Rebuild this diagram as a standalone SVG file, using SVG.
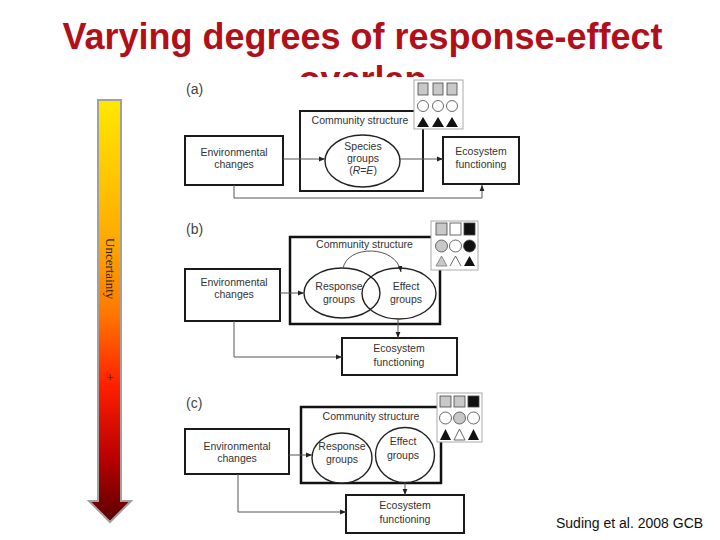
<svg xmlns="http://www.w3.org/2000/svg" width="720" height="540" viewBox="0 0 720 540">
<defs>
<linearGradient id="unc" x1="0" y1="0" x2="0" y2="1">
<stop offset="0" stop-color="#ffe800"/>
<stop offset="0.3" stop-color="#ffb000"/>
<stop offset="0.5" stop-color="#ff7a00"/>
<stop offset="0.68" stop-color="#ff1e00"/>
<stop offset="0.85" stop-color="#b80000"/>
<stop offset="1" stop-color="#5a0000"/>
</linearGradient>
<marker id="ah" viewBox="0 0 8 8" refX="8" refY="4" markerWidth="6" markerHeight="6" orient="auto" markerUnits="userSpaceOnUse">
<path d="M0,0.8 L8,4 L0,7.2 z" fill="#222"/>
</marker>
<clipPath id="titleclip"><rect x="0" y="0" width="720" height="77"/></clipPath>
</defs>
<style>
.title{font-family:"Liberation Sans",Arial,sans-serif;font-weight:bold;font-size:36px;fill:#b0101a;text-anchor:middle}
.box{fill:#fff;stroke:#1a1a1a;stroke-width:2}
.cbox{fill:#fff;stroke:#111;stroke-width:2.5}
.lbl{font-family:"Liberation Sans",Arial,sans-serif;font-size:10.5px;fill:#333;text-anchor:middle}
.panel{font-family:"Liberation Sans",Arial,sans-serif;font-size:14px;fill:#444}
.ell{fill:#fff;stroke:#222;stroke-width:1.4}
.conn{fill:none;stroke:#555;stroke-width:1}
.arr{marker-end:url(#ah)}
.leg{fill:#fff;stroke:#aaa;stroke-width:1}
.ls{stroke:#444;stroke-width:0.8}
.g{fill:#c8c8c8}
.w{fill:#fff}
.k{fill:#111}
.cite{font-family:"Liberation Sans",Arial,sans-serif;font-size:14px;fill:#111}
.unc{font-family:"Liberation Serif","Times New Roman",serif;font-size:13px;fill:#222}
</style>
<rect width="720" height="540" fill="#fff"/>

<g id="title">
<text class="title" x="362.5" y="49">Varying degrees of response-effect</text>
<text class="title" x="362.5" y="92" clip-path="url(#titleclip)">overlap</text>
</g>

<g id="uncertainty-arrow">
<path d="M98,100 L121,100 L121,501 L131,501 L110,522 L89,501 L98,501 Z" fill="url(#unc)" stroke="#a0a0a0" stroke-width="2" stroke-linejoin="miter"/>
<text class="unc" transform="translate(106,238) rotate(90)">Uncertainty</text>
<text class="unc" x="110" y="382" text-anchor="middle">+</text>
</g>

<!-- Panel (a) -->
<g id="panel-a">
<text class="panel" x="186" y="94">(a)</text>
<g id="a-community">
<rect class="box" x="300" y="111" width="123" height="80"/>
<text class="lbl" x="360" y="124">Community structure</text>
</g>
<g id="a-legend">
<rect class="leg" x="414" y="80" width="49" height="49"/>
<rect class="g ls" x="418" y="83" width="10" height="12"/>
<rect class="g ls" x="433" y="83" width="10" height="12"/>
<rect class="g ls" x="447" y="83" width="10" height="12"/>
<circle class="w ls" cx="423" cy="106" r="5.5"/>
<circle class="w ls" cx="438" cy="106" r="5.5"/>
<circle class="w ls" cx="452" cy="106" r="5.5"/>
<polygon class="k" points="417,127 423,117 429,127"/>
<polygon class="k" points="432,127 438,117 444,127"/>
<polygon class="k" points="446,127 452,117 458,127"/>
</g>
<g id="a-env">
<rect class="box" x="185" y="136" width="98" height="49"/>
<text class="lbl" x="234" y="156">Environmental</text>
<text class="lbl" x="234" y="168">changes</text>
</g>
<g id="a-species">
<ellipse class="ell" cx="362.5" cy="161" rx="37.5" ry="26"/>
<text class="lbl" x="363" y="150">Species</text>
<text class="lbl" x="363" y="162">groups</text>
<text class="lbl" x="363" y="174">(<tspan font-style="italic">R</tspan>=<tspan font-style="italic">E</tspan>)</text>
</g>
<g id="a-eco">
<rect class="box" x="443" y="137" width="76" height="47"/>
<text class="lbl" x="481" y="155">Ecosystem</text>
<text class="lbl" x="481" y="168">functioning</text>
</g>
</g>

<!-- Panel (b) -->
<g id="panel-b">
<text class="panel" x="186" y="234">(b)</text>
<g id="b-community">
<rect class="cbox" x="290" y="237" width="150" height="87"/>
<text class="lbl" x="364.5" y="248">Community structure</text>
</g>
<g id="b-legend">
<rect class="leg" x="431" y="221" width="47" height="49"/>
<rect class="g ls" x="436" y="223" width="11" height="12"/>
<rect class="w ls" x="450" y="223" width="11" height="12"/>
<rect class="k ls" x="464" y="223" width="11" height="12"/>
<circle class="g ls" cx="441.5" cy="246" r="6"/>
<circle class="w ls" cx="455.5" cy="246" r="6"/>
<circle class="k ls" cx="469.5" cy="246" r="6"/>
<polygon class="g" points="436,266 441.5,256 447,266" stroke="#777" stroke-width="0.8"/>
<polyline points="450,266 455.5,256 461,266" fill="none" stroke="#444" stroke-width="0.8"/>
<polygon class="k" points="464,266 469.5,256 475,266"/>
</g>
<g id="b-env">
<rect class="box" x="185" y="269" width="95" height="52"/>
<text class="lbl" x="234" y="286">Environmental</text>
<text class="lbl" x="234" y="298">changes</text>
</g>
<g id="b-response">
<ellipse class="ell" cx="342" cy="293" rx="38" ry="25" fill="none" style="fill:none"/>
<text class="lbl" x="339" y="290">Response</text>
<text class="lbl" x="339" y="303">groups</text>
</g>
<g id="b-effect">
<ellipse class="ell" cx="399" cy="293.5" rx="37" ry="25.5" style="fill:none"/>
<text class="lbl" x="406" y="290">Effect</text>
<text class="lbl" x="406" y="303">groups</text>
</g>
<g id="b-eco">
<rect class="box" x="342" y="338" width="115" height="37"/>
<text class="lbl" x="399" y="352">Ecosystem</text>
<text class="lbl" x="399" y="366">functioning</text>
</g>
</g>

<!-- Panel (c) -->
<g id="panel-c">
<text class="panel" x="186" y="408">(c)</text>
<g id="c-community">
<rect class="cbox" x="301" y="407" width="140" height="76"/>
<text class="lbl" x="371" y="420">Community structure</text>
</g>
<g id="c-legend">
<rect class="leg" x="437" y="393" width="45" height="49"/>
<rect class="g ls" x="440" y="396" width="11" height="11"/>
<rect class="g ls" x="454" y="396" width="11" height="11"/>
<rect class="k ls" x="468" y="396" width="11" height="11"/>
<circle class="w ls" cx="445.5" cy="418" r="6"/>
<circle class="g ls" cx="459.5" cy="418" r="6"/>
<circle class="w ls" cx="473.5" cy="418" r="6"/>
<polygon class="k" points="440,440 445.5,429 451,440"/>
<polygon class="w" points="454,440 459.5,429 465,440" stroke="#444" stroke-width="0.8"/>
<polygon class="k" points="468,440 473.5,429 479,440"/>
</g>
<g id="c-env">
<rect class="box" x="185" y="429" width="104" height="45"/>
<text class="lbl" x="237" y="450">Environmental</text>
<text class="lbl" x="237" y="462">changes</text>
</g>
<g id="c-response">
<ellipse class="ell" cx="342" cy="458" rx="30" ry="25"/>
<text class="lbl" x="342" y="450">Response</text>
<text class="lbl" x="342" y="463">groups</text>
</g>
<g id="c-effect">
<ellipse class="ell" cx="405" cy="455" rx="29.5" ry="27.5"/>
<text class="lbl" x="403" y="445">Effect</text>
<text class="lbl" x="403" y="459">groups</text>
</g>
<g id="c-eco">
<rect class="box" x="346" y="495" width="118" height="38"/>
<text class="lbl" x="405" y="509">Ecosystem</text>
<text class="lbl" x="405" y="523">functioning</text>
</g>
</g>

<g id="connectors">
<path class="conn arr" d="M283,159 L325,159"/>
<path class="conn arr" d="M400,159 L443,159"/>
<path class="conn arr" d="M234,185 L234,198 L482,198 L482,185"/>
<path class="conn arr" d="M280,293 L304,293"/>
<path class="conn arr" d="M343,269 C346,245 396,244 401,272"/>
<path class="conn arr" d="M398,319 L398,338"/>
<path class="conn arr" d="M234,321 L234,357 L342,357"/>
<path class="conn arr" d="M289,455 L312,455"/>
<path class="conn arr" d="M405,483 L405,495"/>
<path class="conn arr" d="M238,474 L238,512 L346,512"/>
</g>

<text class="cite" x="556" y="528">Suding et al. 2008 GCB</text>
</svg>
